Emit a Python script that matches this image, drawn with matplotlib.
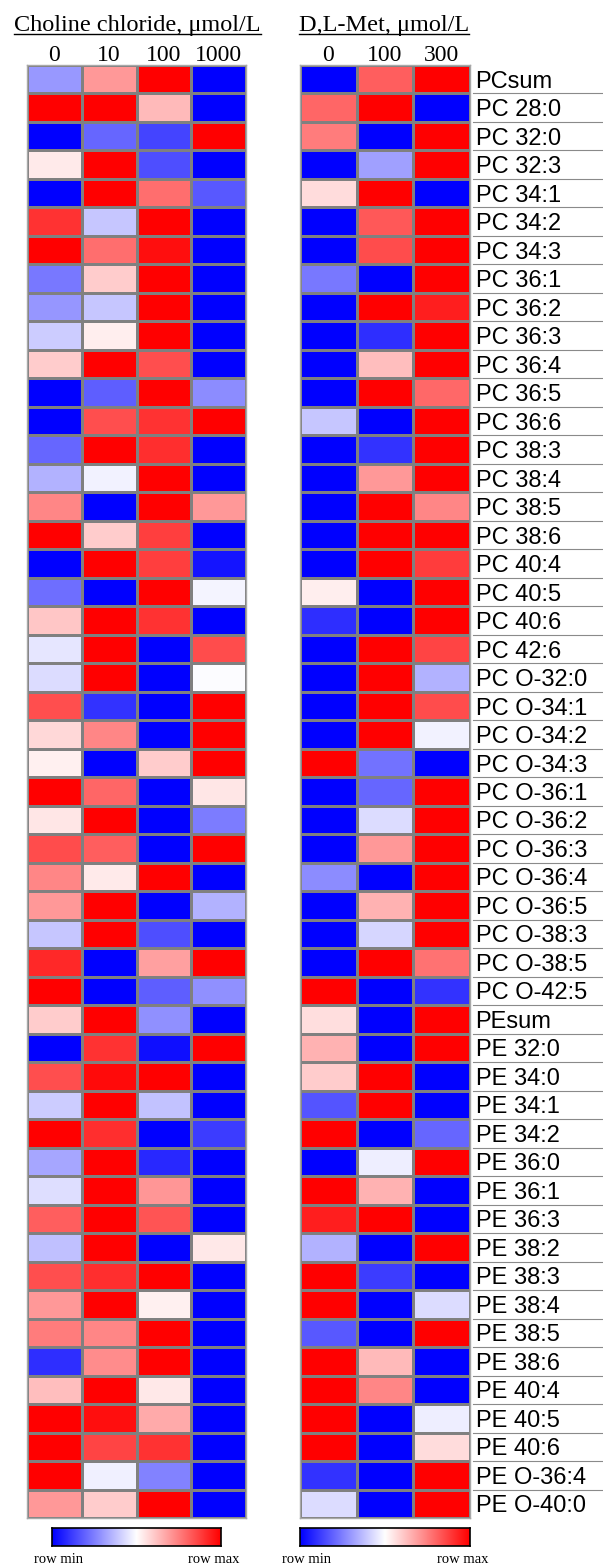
import numpy as np
import matplotlib
matplotlib.use("Agg")
import matplotlib.pyplot as plt
from matplotlib.lines import Line2D

# Lipid species (rows)
lipids = [
    "PCsum", "PC 28:0", "PC 32:0", "PC 32:3", "PC 34:1", "PC 34:2", "PC 34:3",
    "PC 36:1", "PC 36:2", "PC 36:3", "PC 36:4", "PC 36:5", "PC 36:6", "PC 38:3",
    "PC 38:4", "PC 38:5", "PC 38:6", "PC 40:4", "PC 40:5", "PC 40:6", "PC 42:6",
    "PC O-32:0", "PC O-34:1", "PC O-34:2", "PC O-34:3", "PC O-36:1", "PC O-36:2",
    "PC O-36:3", "PC O-36:4", "PC O-36:5", "PC O-38:3", "PC O-38:5", "PC O-42:5",
    "PEsum", "PE 32:0", "PE 34:0", "PE 34:1", "PE 34:2", "PE 36:0", "PE 36:1",
    "PE 36:3", "PE 38:2", "PE 38:3", "PE 38:4", "PE 38:5", "PE 38:6", "PE 40:4",
    "PE 40:5", "PE 40:6", "PE O-36:4", "PE O-40:0",
]

# Treatment concentrations (columns)
choline_doses = ["0", "10", "100", "1000"]
met_doses = ["0", "100", "300"]

# Row-scaled values (-1 = row min, +1 = row max), choline chloride series
choline_0 = [-0.40, 1.00, -1.00, 0.08, -1.00, 0.80, 1.00, -0.53, -0.41, -0.20,
             0.20, -1.00, -1.00, -0.60, -0.30, 0.47, 1.00, -1.00, -0.57, 0.22,
             -0.10, -0.14, 0.69, 0.15, 0.06, 1.00, 0.10, 0.70, 0.47, 0.40,
             -0.22, 0.84, 1.00, 0.20, -1.00, 0.69, -0.20, 1.00, -0.35, -0.13,
             0.63, -0.25, 0.69, 0.40, 0.51, -0.82, 0.25, 1.00, 1.00, 1.00, 0.40]
choline_10 = [0.40, 1.00, -0.60, 1.00, 1.00, -0.22, 0.57, 0.20, -0.22, 0.07,
              1.00, -0.63, 0.69, 1.00, -0.05, -1.00, 0.20, 1.00, -1.00, 1.00,
              1.00, 1.00, -0.80, 0.47, -1.00, 0.60, 1.00, 0.63, 0.08, 1.00,
              1.00, -1.00, -1.00, 1.00, 0.80, 0.96, 1.00, 0.82, 1.00, 1.00,
              1.00, 1.00, 0.82, 1.00, 0.47, 0.45, 1.00, 0.94, 0.73, -0.06, 0.20]
choline_100 = [1.00, 0.27, -0.73, -0.69, 0.57, 1.00, 0.94, 1.00, 1.00, 1.00,
               0.69, 1.00, 0.80, 0.82, 1.00, 1.00, 0.75, 0.75, 1.00, 0.80,
               -1.00, -1.00, -1.00, -1.00, 0.20, -1.00, -1.00, -1.00, 1.00, -1.00,
               -0.69, 0.37, -0.63, -0.43, -0.94, 1.00, -0.24, -1.00, -0.84, 0.41,
               0.67, -1.00, 1.00, 0.06, 1.00, 1.00, 0.09, 0.33, 0.80, -0.49, 1.00]
choline_1000 = [-1.00, -1.00, 1.00, -1.00, -0.65, -1.00, -1.00, -1.00, -1.00, -1.00,
                -1.00, -0.45, 1.00, -1.00, -1.00, 0.40, -1.00, -0.92, -0.04, -1.00,
                0.70, -0.01, 1.00, 1.00, 1.00, 0.10, -0.51, 1.00, -1.00, -0.30,
                -1.00, 1.00, -0.43, -1.00, 1.00, -1.00, -1.00, -0.76, -1.00, -1.00,
                -1.00, 0.09, -1.00, -1.00, -1.00, -1.00, -1.00, -1.00, -1.00, -1.00, -1.00]

# Row-scaled values, D,L-methionine series
met_0 = [-1.00, 0.60, 0.51, -1.00, 0.14, -1.00, -1.00, -0.53, -1.00, -1.00,
         -1.00, -1.00, -0.22, -1.00, -1.00, -1.00, -1.00, -1.00, 0.07, -0.82,
         -1.00, -1.00, -1.00, -1.00, 1.00, -1.00, -1.00, -1.00, -0.45, -1.00,
         -1.00, -1.00, 1.00, 0.13, 0.30, 0.20, -0.67, 1.00, -1.00, 1.00,
         0.88, -0.30, 1.00, 1.00, -0.65, 1.00, 1.00, 1.00, 1.00, -0.80, -0.14]
met_100 = [0.63, 1.00, -1.00, -0.37, 1.00, 0.65, 0.70, -1.00, 1.00, -0.82,
           0.25, 1.00, -1.00, -0.80, 0.40, 1.00, 1.00, 1.00, -1.00, -1.00,
           1.00, 1.00, 1.00, 1.00, -0.55, -0.60, -0.14, 0.40, -1.00, 0.30,
           -0.16, 1.00, -1.00, -1.00, -1.00, 1.00, 1.00, -1.00, -0.07, 0.30,
           1.00, -1.00, -0.76, -1.00, -1.00, 0.27, 0.47, -1.00, -1.00, -1.00, -1.00]
met_300 = [1.00, -1.00, 1.00, 1.00, -1.00, 1.00, 1.00, 1.00, 0.88, 1.00,
           1.00, 0.59, 1.00, 1.00, 1.00, 0.47, 1.00, 0.76, 1.00, 1.00,
           0.73, -0.30, 0.70, -0.05, -1.00, 1.00, 1.00, 1.00, 1.00, 1.00,
           1.00, 0.55, -0.80, 1.00, 1.00, -1.00, -1.00, -0.60, 1.00, -1.00,
           -1.00, 1.00, -1.00, -0.14, 1.00, -1.00, -1.00, -0.07, 0.14, 1.00, 1.00]

choline = np.column_stack([choline_0, choline_10, choline_100, choline_1000])
met = np.column_stack([met_0, met_100, met_300])
n_rows = len(lipids)

W, H = 603, 1566
fig = plt.figure(figsize=(W / 100, H / 100), dpi=100)
fig.patch.set_facecolor("white")

SERIF = ["Liberation Serif", "DejaVu Serif"]
SANS = ["Liberation Sans", "DejaVu Sans"]
CMAP = "bwr"
EDGE = "#808080"

top_px, bot_px = 65, 1518
row_px = (bot_px - top_px) / n_rows


def px_rect(x0, y0, x1, y1):
    """Figure-fraction rectangle from pixel edges measured from the top-left."""
    return [x0 / W, 1 - y1 / H, (x1 - x0) / W, (y1 - y0) / H]


def heatmap(rect, data, doses):
    ax = fig.add_axes(rect)
    ax.pcolormesh(data, cmap=CMAP, vmin=-1, vmax=1,
                  edgecolors=EDGE, linewidth=0.8)
    ax.set_xlim(0, data.shape[1])
    ax.set_ylim(n_rows, 0)
    ax.set_xticks([])
    ax.set_yticks([])
    for s in ax.spines.values():
        s.set_color("#a8a8a8")
        s.set_linewidth(1.0)
    # dose labels sit with their baseline ~4 px above the block
    for j, d in enumerate(doses):
        ax.text(j + 0.5, -4.0 / row_px, d, ha="center", va="baseline",
                fontsize=17, family=SERIF, color="black")
    return ax


ax1 = heatmap(px_rect(27, top_px, 246, bot_px), choline, choline_doses)
ax2 = heatmap(px_rect(300, top_px, 470, bot_px), met, met_doses)

# Lipid names on the right of the methionine block
ax2.yaxis.tick_right()
ax2.set_yticks(np.arange(n_rows) + 0.5)
ax2.set_yticklabels(lipids, fontsize=17, family=SANS)
ax2.tick_params(axis="y", length=0, pad=4.0)

# Thin separators between the name cells
ytr = ax2.get_yaxis_transform()
for k in range(1, n_rows):
    ax2.add_line(Line2D([1.018, 1.8], [k, k], transform=ytr, color="#8a8a8a",
                        linewidth=0.8, clip_on=False))

# Underlined block titles
titles = [("Choline chloride, \u03bcmol/L", 137.5), ("D,L-Met, \u03bcmol/L", 384.0)]
title_base_px = 31
title_objs = []
for txt, cx in titles:
    t = fig.text(cx / W, 1 - title_base_px / H, txt, ha="center", va="baseline",
                 fontsize=17.5, family=SERIF, color="black")
    title_objs.append(t)

fig.canvas.draw()
renderer = fig.canvas.get_renderer()
for t in title_objs:
    bb = t.get_window_extent(renderer)
    yline = 1 - (title_base_px + 2.5) / H
    fig.add_artist(Line2D([bb.x0 / W, bb.x1 / W], [yline, yline],
                          transform=fig.transFigure, color="black", linewidth=1.0))

# Colour keys
gradient = np.linspace(-1, 1, 256).reshape(1, -1)
for (x0, x1), (lx, rx) in [((52, 221), (58, 214)), ((300, 470), (307, 463))]:
    cax = fig.add_axes(px_rect(x0, 1528, x1, 1546))
    cax.imshow(gradient, cmap=CMAP, vmin=-1, vmax=1, aspect="auto",
               extent=[0, 1, 0, 1])
    cax.set_xticks([])
    cax.set_yticks([])
    for s in cax.spines.values():
        s.set_color("black")
        s.set_linewidth(1.2)
    fig.text(lx / W, 1 - 1563 / H, "row min", ha="center", va="baseline",
             fontsize=10.5, family=SERIF)
    fig.text(rx / W, 1 - 1563 / H, "row max", ha="center", va="baseline",
             fontsize=10.5, family=SERIF)

fig.savefig("out.png", dpi=100, facecolor="white")
